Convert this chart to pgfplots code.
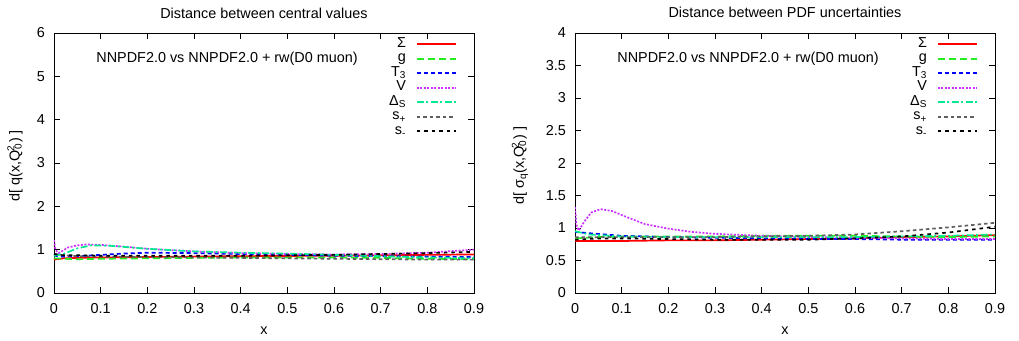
\documentclass[border=0pt]{standalone}
\usepackage{pgfplots}
\pgfplotsset{compat=1.18}
\usepackage{fontspec}
\setmainfont{Liberation Sans}
\definecolor{gpred}{HTML}{FF0000}
\definecolor{gpgreen}{HTML}{22EE22}
\definecolor{gpblue}{HTML}{0000FF}
\definecolor{gpmag}{HTML}{CC33FF}
\definecolor{gpcyan}{HTML}{00E890}
\definecolor{gpgray}{HTML}{606060}
\pgfplotsset{
  gpaxis/.style={
    scale only axis, width=420pt, height=260pt,
    xmin=0, xmax=0.9, xtick={0,0.1,...,0.9},
    tick align=inside, major tick length=6pt,
    axis line style={line width=0.8pt}, every tick/.style={line width=0.8pt, black},
    /pgf/number format/assume math mode=true,
    /pgf/number format/fixed,
    xticklabel style={anchor=base, yshift=-20pt, inner sep=0pt},
    yticklabel style={anchor=east, xshift=-9pt, inner sep=0pt},
    xlabel={x},
    xlabel style={at={(axis description cs:0.5,0)}, anchor=base, yshift=-41pt, inner sep=0pt},
    title style={at={(axis description cs:0.5,1)}, anchor=base, yshift=9pt, inner sep=0pt},
    legend plot pos=right, legend cell align=right,
    legend style={draw=none, fill=none, inner sep=0pt, outer sep=0pt,
      at={(axis description cs:0.9595,0.985)}, anchor=north east,
      nodes={inner sep=0pt, text height=10.5pt, text depth=4pt},
      /tikz/every odd column/.append style={column sep=10pt}},
    legend image code/.code={\draw[##1, line width=2pt] (0pt,0pt) -- (39pt,0pt);},
    every axis plot/.append style={line width=1.7pt},
  },
}
\tikzset{
  gpSigma/.style={color=gpred, solid},
  gpGlu/.style={color=gpgreen, dash pattern=on 7pt off 4pt},
  gpTthree/.style={color=gpblue, dash pattern=on 4pt off 3pt},
  gpVal/.style={color=gpmag, dash pattern=on 2pt off 1.5pt},
  gpDelta/.style={color=gpcyan, dash pattern=on 7pt off 2.5pt on 2pt off 2.5pt},
  gpSplus/.style={color=gpgray, dash pattern=on 3.5pt off 3pt},
  gpSminus/.style={color=black, dash pattern=on 3.5pt off 4pt},
}
\begin{document}
\begin{tikzpicture}[x=1pt,y=1pt,font=\fontsize{14.4}{17}\selectfont]
\useasboundingbox (0,0) rectangle (1019,340);
\begin{axis}[gpaxis, at={(54pt,47pt)}, anchor=south west,
  ymin=0, ymax=6, ytick={0,1,...,6},
  title={Distance between central values},
  ylabel={d[ q(x,Q\textsubscript{0}\kern-0.55em\textsuperscript{2}\kern0.2em) ]},
  ylabel style={at={(axis description cs:-0.093,0.49)}, anchor=center, inner sep=0pt}]
\addplot[gpSigma] coordinates {(0,0.77)(0.02,0.8)(0.05,0.81)(0.1,0.82)(0.2,0.83)(0.3,0.84)(0.4,0.85)(0.5,0.855)(0.6,0.86)(0.7,0.87)(0.8,0.88)(0.9,0.89)};
\addlegendentry{Σ}
\addplot[gpGlu] coordinates {(0,0.8)(0.02,0.79)(0.05,0.78)(0.1,0.79)(0.2,0.8)(0.3,0.81)(0.4,0.82)(0.5,0.82)(0.6,0.82)(0.7,0.81)(0.8,0.79)(0.9,0.78)};
\addlegendentry{g}
\addplot[gpTthree] coordinates {(0,0.87)(0.01,0.84)(0.05,0.85)(0.1,0.88)(0.15,0.91)(0.2,0.93)(0.3,0.92)(0.4,0.9)(0.5,0.88)(0.6,0.86)(0.7,0.85)(0.8,0.84)(0.9,0.83)};
\addlegendentry{T\textsubscript{3}}
\addplot[gpVal] coordinates {(0,1.22)(0.003,1.0)(0.01,0.92)(0.03,1.05)(0.05,1.1)(0.07,1.12)(0.1,1.11)(0.15,1.07)(0.2,1.02)(0.3,0.96)(0.4,0.92)(0.5,0.9)(0.6,0.89)(0.7,0.9)(0.8,0.93)(0.9,1.0)};
\addlegendentry{V}
\addplot[gpDelta] coordinates {(0,0.86)(0.02,0.9)(0.05,1.03)(0.08,1.1)(0.12,1.09)(0.2,1.02)(0.3,0.96)(0.4,0.93)(0.5,0.91)(0.6,0.88)(0.7,0.85)(0.8,0.82)(0.9,0.8)};
\addlegendentry{Δ\textsubscript{S}}
\addplot[gpSplus] coordinates {(0,0.9)(0.02,0.87)(0.05,0.85)(0.1,0.84)(0.2,0.83)(0.3,0.82)(0.4,0.81)(0.5,0.8)(0.6,0.79)(0.7,0.78)(0.8,0.77)(0.9,0.77)};
\addlegendentry{s\textsubscript{+}}
\addplot[gpSminus] coordinates {(0,0.9)(0.02,0.87)(0.05,0.87)(0.1,0.86)(0.2,0.86)(0.3,0.86)(0.4,0.86)(0.5,0.87)(0.6,0.88)(0.7,0.9)(0.8,0.92)(0.9,0.95)};
\addlegendentry{s\textsubscript{-}}
\node[inner sep=0pt] at (axis description cs:0.412,0.9) {NNPDF2.0 vs NNPDF2.0 + rw(D0 muon)};
\end{axis}
\begin{axis}[gpaxis, at={(575pt,47pt)}, anchor=south west,
  ymin=0, ymax=4, ytick={0,0.5,...,4},
  yticklabel style={/pgf/number format/precision=1},
  title={Distance between PDF uncertainties},
  ylabel={d[ σ\textsubscript{q}(x,Q\textsubscript{0}\kern-0.55em\textsuperscript{2}\kern0.2em) ]},
  ylabel style={at={(axis description cs:-0.131,0.49)}, anchor=center, inner sep=0pt}]
\addplot[gpSigma] coordinates {(0,0.8)(0.1,0.8)(0.2,0.81)(0.3,0.81)(0.4,0.82)(0.5,0.83)(0.6,0.84)(0.7,0.86)(0.8,0.87)(0.9,0.89)};
\addlegendentry{Σ}
\addplot[gpGlu] coordinates {(0,0.84)(0.05,0.86)(0.1,0.87)(0.2,0.87)(0.3,0.87)(0.4,0.88)(0.5,0.88)(0.6,0.88)(0.7,0.87)(0.8,0.86)(0.9,0.87)};
\addlegendentry{g}
\addplot[gpTthree] coordinates {(0,0.94)(0.03,0.92)(0.1,0.88)(0.2,0.86)(0.3,0.85)(0.4,0.84)(0.5,0.83)(0.6,0.83)(0.7,0.82)(0.8,0.82)(0.9,0.82)};
\addlegendentry{T\textsubscript{3}}
\addplot[gpVal] coordinates {(0,1.32)(0.003,1.05)(0.008,0.96)(0.02,1.1)(0.035,1.24)(0.055,1.29)(0.08,1.26)(0.11,1.17)(0.15,1.06)(0.2,0.99)(0.25,0.94)(0.3,0.91)(0.4,0.88)(0.5,0.86)(0.6,0.85)(0.7,0.84)(0.8,0.83)(0.9,0.83)};
\addlegendentry{V}
\addplot[gpDelta] coordinates {(0,0.95)(0.03,0.9)(0.1,0.87)(0.2,0.86)(0.3,0.86)(0.4,0.86)(0.5,0.86)(0.6,0.86)(0.7,0.87)(0.8,0.88)(0.9,0.9)};
\addlegendentry{Δ\textsubscript{S}}
\addplot[gpSplus] coordinates {(0,0.86)(0.1,0.86)(0.2,0.86)(0.3,0.86)(0.4,0.87)(0.5,0.88)(0.6,0.9)(0.7,0.95)(0.8,1.01)(0.9,1.08)};
\addlegendentry{s\textsubscript{+}}
\addplot[gpSminus] coordinates {(0,0.82)(0.05,0.84)(0.1,0.84)(0.2,0.83)(0.3,0.82)(0.4,0.82)(0.5,0.82)(0.6,0.84)(0.7,0.87)(0.8,0.93)(0.9,1.02)};
\addlegendentry{s\textsubscript{-}}
\node[inner sep=0pt] at (axis description cs:0.412,0.9) {NNPDF2.0 vs NNPDF2.0 + rw(D0 muon)};
\end{axis}
\end{tikzpicture}
\end{document}
